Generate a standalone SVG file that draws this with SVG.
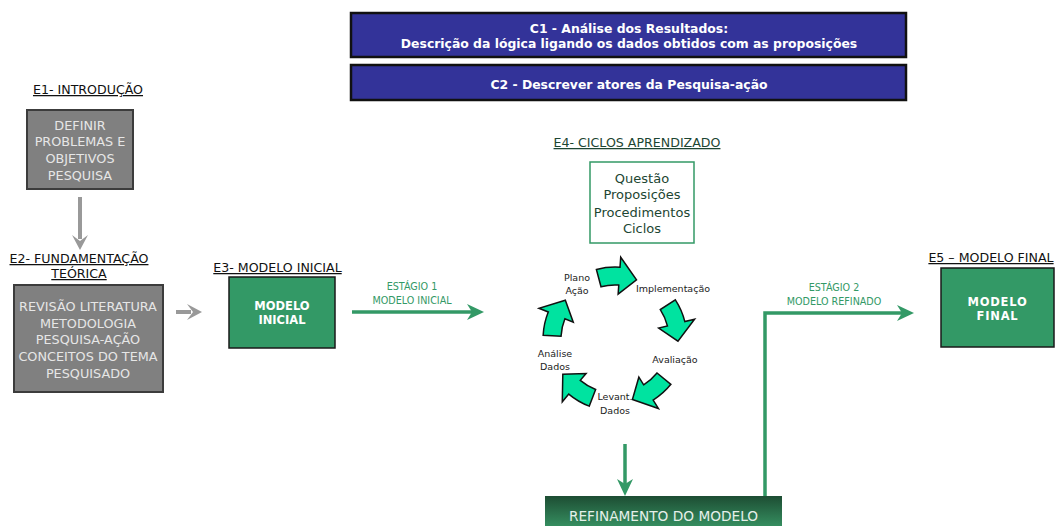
<svg xmlns="http://www.w3.org/2000/svg" width="1056" height="526" viewBox="0 0 1056 526">
<style>
text{font-family:'DejaVu Sans','Liberation Sans',sans-serif}
.lbl{font-size:12.6px;fill:#111;text-decoration:underline;text-anchor:middle}
.lbg{font-size:12.6px;fill:#1d4633;text-decoration:underline;text-anchor:middle}
.gbox{fill:#808080;stroke:#3c3c3c;stroke-width:2}
.gtxt{font-size:12.8px;fill:#e6e6e6;text-anchor:middle}
.mbox{fill:#339966;stroke:#1a1a1a;stroke-width:1.5}
.mtxt{font-size:11.5px;font-weight:bold;fill:#fff;text-anchor:middle}
.cbox{fill:#333399;stroke:#111;stroke-width:2.5}
.ctxt{font-size:12.4px;font-weight:bold;fill:#fff;text-anchor:middle}
.stg{font-size:9.6px;fill:#339966;text-anchor:middle}
.cyc{fill:#00e3a0;stroke:#111;stroke-width:1.5}
.clbl{font-size:9.5px;fill:#222;text-anchor:middle}
.qtxt{font-size:13px;fill:#1d4633;text-anchor:middle}
.gc{fill:none;stroke:#999;stroke-width:4}
.grc{fill:none;stroke:#339966;stroke-width:3.5}
</style>
<defs>
<marker id="ahg" viewBox="0 0 15 16" refX="4" refY="8" markerWidth="15" markerHeight="16" orient="auto" markerUnits="userSpaceOnUse">
<path d="M0,0 L15,8 L0,16 L6,8 Z" fill="#999"/>
</marker>
<marker id="ahn" viewBox="0 0 17 16" refX="7" refY="8" markerWidth="17" markerHeight="16" orient="auto" markerUnits="userSpaceOnUse">
<path d="M0,0 L17,8 L0,16 L5,8 Z" fill="#339966"/>
</marker>
<linearGradient id="refg" x1="0" y1="0" x2="0" y2="1">
<stop offset="0" stop-color="#1d4d33"/>
<stop offset="1" stop-color="#3a9a68"/>
</linearGradient>
<path id="ca" d="M-18.6,-69.5 A72,72 0 0 1 5.02,-71.8 L5.72,-81.8 L21.5,-59.2 L3.14,-44.9 L3.77,-53.9 A54,54 0 0 0 -14.0,-52.2 Z"/>
</defs>

<g id="c1">
<rect class="cbox" x="351" y="13" width="555" height="44"/>
<text class="ctxt" x="629" y="32.5">C1 - Análise dos Resultados:</text>
<text class="ctxt" x="629" y="47.5">Descrição da lógica ligando os dados obtidos com as proposições</text>
</g>
<g id="c2">
<rect class="cbox" x="351" y="65" width="555" height="35"/>
<text class="ctxt" x="629" y="88.5">C2 - Descrever atores da Pesquisa-ação</text>
</g>

<g id="e1">
<text class="lbl" x="88" y="94">E1- INTRODUÇÃO</text>
<rect class="gbox" x="27" y="110" width="106" height="79"/>
<text class="gtxt" x="80" y="130">DEFINIR</text>
<text class="gtxt" x="80" y="146">PROBLEMAS E</text>
<text class="gtxt" x="80" y="163">OBJETIVOS</text>
<text class="gtxt" x="80" y="180">PESQUISA</text>
</g>

<g id="e2">
<text class="lbl" x="79" y="263">E2- FUNDAMENTAÇÃO</text>
<text class="lbl" x="79" y="278">TEÓRICA</text>
<rect class="gbox" x="14" y="285" width="149" height="107"/>
<text class="gtxt" x="88" y="311">REVISÃO LITERATURA</text>
<text class="gtxt" x="88" y="328">METODOLOGIA</text>
<text class="gtxt" x="88" y="344">PESQUISA-AÇÃO</text>
<text class="gtxt" x="88" y="361">CONCEITOS DO TEMA</text>
<text class="gtxt" x="88" y="378">PESQUISADO</text>
</g>

<g id="e3">
<text class="lbl" x="277.5" y="272">E3- MODELO INICIAL</text>
<rect class="mbox" x="229" y="277" width="106" height="71"/>
<text class="mtxt" x="282" y="310">MODELO</text>
<text class="mtxt" x="282" y="324">INICIAL</text>
</g>

<g id="e4">
<text class="lbg" x="637" y="147">E4- CICLOS APRENDIZADO</text>
<rect x="590" y="162" width="104" height="81" fill="#fff" stroke="#339966" stroke-width="1.5"/>
<text class="qtxt" x="642" y="183">Questão</text>
<text class="qtxt" x="642" y="199">Proposições</text>
<text class="qtxt" x="642" y="217">Procedimentos</text>
<text class="qtxt" x="642" y="233">Ciclos</text>
</g>

<g id="ciclo">
<use href="#ca" class="cyc" transform="translate(615,339)"/>
<use href="#ca" class="cyc" transform="translate(615,339) rotate(72)"/>
<use href="#ca" class="cyc" transform="translate(615,339) rotate(144)"/>
<use href="#ca" class="cyc" transform="translate(615,339) rotate(216)"/>
<use href="#ca" class="cyc" transform="translate(615,339) rotate(288)"/>
<text class="clbl" x="577" y="281">Plano</text>
<text class="clbl" x="577" y="294">Ação</text>
<text class="clbl" x="673" y="292">Implementação</text>
<text class="clbl" x="675" y="363">Avaliação</text>
<text class="clbl" x="615" y="400">Levant.</text>
<text class="clbl" x="615" y="414">Dados</text>
<text class="clbl" x="555" y="357">Análise</text>
<text class="clbl" x="555" y="370">Dados</text>
</g>

<g id="refinamento">
<rect x="545" y="496" width="237" height="36" fill="url(#refg)"/>
<text x="663.5" y="521" font-size="13.7" fill="#e6f0ea" text-anchor="middle">REFINAMENTO DO MODELO</text>
</g>

<g id="e5">
<text class="lbl" x="991" y="262">E5 – MODELO FINAL</text>
<rect class="mbox" x="941" y="268" width="113" height="79"/>
<text class="mtxt" x="997.5" y="306" letter-spacing="0.8">MODELO</text>
<text class="mtxt" x="997.5" y="320" letter-spacing="0.8">FINAL</text>
</g>

<g id="connectors">
<path class="gc" d="M80,197 V239" marker-end="url(#ahg)"/>
<path class="gc" d="M176,312 H191" marker-end="url(#ahg)"/>
<path class="grc" d="M352,312 H474" marker-end="url(#ahn)"/>
<text class="stg" x="412" y="290">ESTÁGIO 1</text>
<text class="stg" x="412" y="304">MODELO INICIAL</text>
<path class="grc" d="M625,444 V486" marker-end="url(#ahn)"/>
<path class="grc" d="M765,496 V313 H904" marker-end="url(#ahn)"/>
<text class="stg" x="834" y="291">ESTÁGIO 2</text>
<text class="stg" x="834" y="305">MODELO REFINADO</text>
</g>
</svg>
